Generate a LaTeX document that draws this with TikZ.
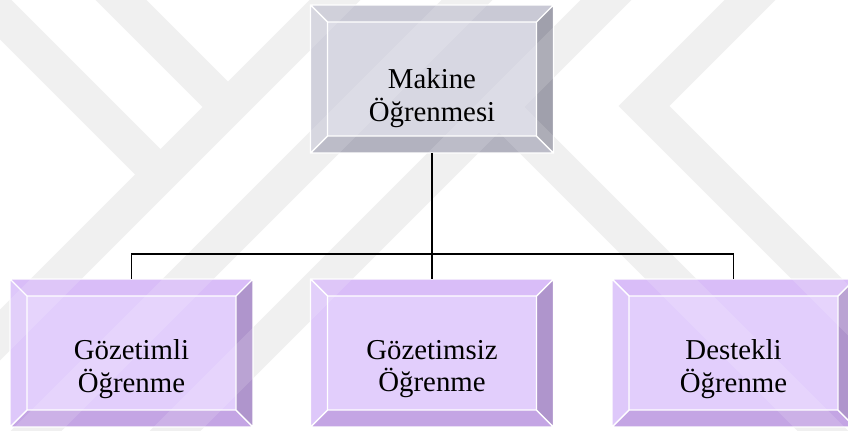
\documentclass[tikz,border=0pt]{standalone}
\usepackage{fontspec}
\setmainfont{Liberation Serif}
\usetikzlibrary{calc}

% grey bevel palette
\definecolor{gTop}{RGB}{201,201,213}
\definecolor{gRight}{RGB}{160,160,172}
\definecolor{gBottom}{RGB}{178,178,191}
\definecolor{gLeft}{RGB}{209,209,220}
\definecolor{gFace}{RGB}{215,215,226}
% lilac bevel palette
\definecolor{pTop}{RGB}{217,189,248}
\definecolor{pRight}{RGB}{175,149,204}
\definecolor{pBottom}{RGB}{196,165,228}
\definecolor{pLeft}{RGB}{222,200,250}
\definecolor{pFace}{RGB}{226,206,252}
% faint backdrop bands
\definecolor{wm}{RGB}{238,238,238}

\newcommand{\bev}{17}
% bevelled frame around a named node: #1 node, #2 top, #3 right, #4 bottom, #5 left, #6 face
\newcommand{\bevelbox}[6]{%
  \path (#1.north west) coordinate (TL) (#1.north east) coordinate (TR)
        (#1.south east) coordinate (BR) (#1.south west) coordinate (BL);
  \path ($(TL)+(\bev,\bev)$) coordinate (tl) ($(TR)+(-\bev,\bev)$) coordinate (tr)
        ($(BR)+(-\bev,-\bev)$) coordinate (br) ($(BL)+(\bev,-\bev)$) coordinate (bl);
  \fill[#2] (TL) -- (TR) -- (tr) -- (tl) -- cycle;
  \fill[#3] (TR) -- (BR) -- (br) -- (tr) -- cycle;
  \fill[#4] (BR) -- (BL) -- (bl) -- (br) -- cycle;
  \fill[#5] (BL) -- (TL) -- (tl) -- (bl) -- cycle;
  \fill[#6] (tl) rectangle (br);
  \draw[white, line width=0.8pt] (TL) rectangle (BR) (tl) rectangle (br)
        (TL) -- (tl) (TR) -- (tr) (BR) -- (br) (BL) -- (bl);
}

% the backdrop band layout, reused for the base layer and the sheen on the boxes
\newcommand{\bandpath}{%
  (375,-40) -- (-145,480)
  (507,-40) -- (-13,480)
  (646,-40) -- (126,480)
  (-60,-46) -- (160.5,174.5)
  (81,-40) -- (228,107)
  (499,107) -- (900,508)
  (790,-40) -- (644,106) -- (900,362)}

\tikzset{
  box/.style={rectangle, minimum width=4.86cm, minimum height=2.96cm,
              inner sep=0pt, outer sep=0pt},
  lbl/.style={align=center, inner sep=0pt,
              font=\fontsize{16.4}{18.6}\selectfont},
  link/.style={draw=black, line width=1.1pt},
  band/.style={line width=0.72cm, line cap=butt, line join=miter}
}

\begin{document}
\begin{tikzpicture}[x=0.02cm, y=-0.02cm]
\useasboundingbox (0,0) rectangle (848,430);
\fill[white] (0,0) rectangle (848,430);

% diagonal backdrop bands
\begin{scope}
\clip (0,0) rectangle (848,430);
\draw[band, draw=wm] \bandpath;
\end{scope}

% boxes
\node[box] (ml) at (432,79) {};
\node[box] (gz) at (131.5,353) {};
\node[box] (gs) at (432,353) {};
\node[box] (ds) at (733.5,353) {};

\bevelbox{ml}{gTop}{gRight}{gBottom}{gLeft}{gFace}
\bevelbox{gz}{pTop}{pRight}{pBottom}{pLeft}{pFace}
\bevelbox{gs}{pTop}{pRight}{pBottom}{pLeft}{pFace}
\bevelbox{ds}{pTop}{pRight}{pBottom}{pLeft}{pFace}

% light sheen of the bands across the boxes
\begin{scope}
\clip (0,0) rectangle (848,430);
\draw[band, draw=white, draw opacity=0.14] \bandpath;
\end{scope}

% connectors
\coordinate (bus) at (432,254);
\draw[link] (ml.south) -- (bus);
\draw[link] (gz.north) |- (bus);
\draw[link] (bus) -| (ds.north);
\draw[link] (bus) -- (gs.north);

% labels
\node[lbl] (mlt) at ($(ml.center)+(0,19)$) {Makine\\Öğrenmesi};
\node[lbl] (gzt) at ($(gz.center)+(0,16)$) {Gözetimli\\Öğrenme};
\node[lbl] (gst) at ($(gs.center)+(0,16)$) {Gözetimsiz\\Öğrenme};
\node[lbl] (dst) at ($(ds.center)+(0,16)$) {Destekli\\Öğrenme};
\end{tikzpicture}
\end{document}
